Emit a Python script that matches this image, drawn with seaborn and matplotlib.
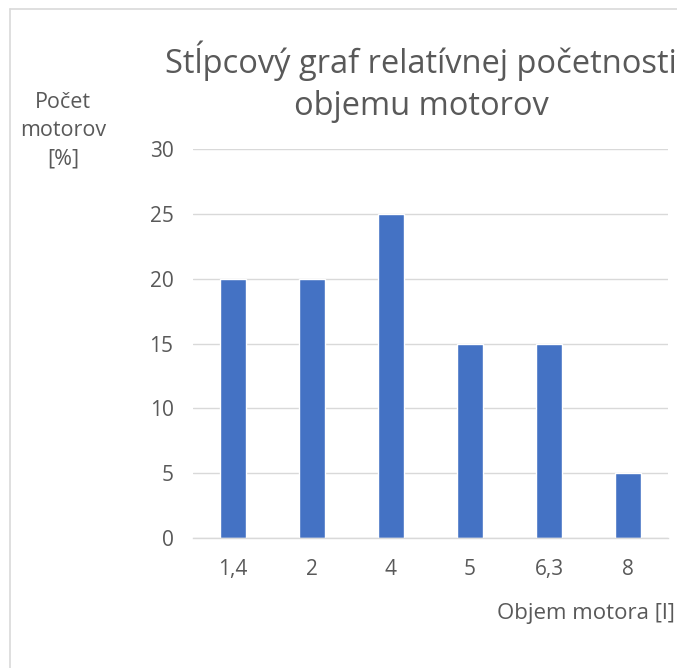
import matplotlib
matplotlib.use('Agg')
import matplotlib.pyplot as plt
import seaborn as sns
import pandas as pd
from matplotlib.lines import Line2D

# chart data
objem = ['1,4', '2', '4', '5', '6,3', '8']
pocet = [20, 20, 25, 15, 15, 5]
y_ticks = [0, 5, 10, 15, 20, 25, 30]

sns.set_theme(style='white')
plt.rcParams['font.family'] = ['Open Sans', 'DejaVu Sans']

TEXT = '#595959'
GRID = '#d9d9d9'
BAR = '#4472C4'

df = pd.DataFrame({'objem': objem, 'pocet': pocet})

fig = plt.figure(figsize=(6.77, 6.68), dpi=100)
ax = fig.add_axes([193 / 677, 130 / 668, 475 / 677, 389 / 668])

sns.barplot(data=df, x='objem', y='pocet', order=objem, color=BAR,
            width=0.33, saturation=1, ax=ax)

ax.set_ylim(0, 30)
ax.set_yticks(y_ticks)
ax.yaxis.grid(True, color=GRID, linewidth=1.0)
ax.set_axisbelow(True)
for side in ['left', 'right', 'top']:
    ax.spines[side].set_visible(False)
ax.spines['bottom'].set_color(GRID)
ax.spines['bottom'].set_linewidth(1.0)
ax.tick_params(axis='both', length=0, colors=TEXT)
ax.tick_params(axis='y', pad=14)
ax.tick_params(axis='x', pad=15)
for lbl in ax.get_xticklabels() + ax.get_yticklabels():
    lbl.set_fontsize(15)
ax.set_xlabel('')
ax.set_ylabel('')

# title and axis titles
fig.text(421 / 677, 1 - 82 / 668, 'Stĺpcový graf relatívnej početnosti\nobjemu motorov',
         ha='center', va='center', fontsize=23.5, color=TEXT, linespacing=1.35)
fig.text(63 / 677, 1 - 131 / 668, 'Počet\nmotorov\n[%]', ha='center', va='center',
         fontsize=15.5, color=TEXT, linespacing=1.45)
fig.text(675 / 677, 1 - 614 / 668, 'Objem motora [l]', ha='right', va='center',
         fontsize=16, color=TEXT)

# chart frame (left and top edges)
fig.add_artist(Line2D([10 / 677, 10 / 677], [0, 1 - 9 / 668], transform=fig.transFigure,
                      color=GRID, linewidth=1.2))
fig.add_artist(Line2D([10 / 677, 1], [1 - 9 / 668, 1 - 9 / 668], transform=fig.transFigure,
                      color=GRID, linewidth=1.2))

fig.savefig('out.png', dpi=100)
